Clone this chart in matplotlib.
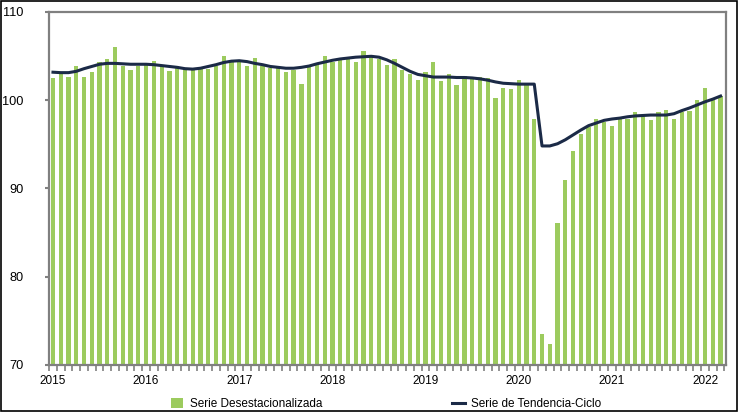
import matplotlib.pyplot as plt
import numpy as np
from matplotlib.patches import Patch, Rectangle
from matplotlib.lines import Line2D

plt.rcParams['font.family'] = ['Liberation Sans', 'DejaVu Sans']

# monthly data, Jan 2015 - Mar 2022
years = ['2015', '2016', '2017', '2018', '2019', '2020', '2021', '2022']

desest = [
    102.5, 102.9, 102.65, 103.8, 102.65, 103.2, 104.35, 104.6, 106.05, 103.9, 103.45, 103.8,
    104.2, 104.45, 103.9, 103.3, 103.9, 103.5, 103.4, 103.55, 103.55, 103.9, 105.0, 104.35,
    104.35, 103.9, 104.8, 103.9, 103.6, 103.9, 103.2, 103.45, 101.85, 103.8, 104.1, 105.0,
    104.35, 104.6, 104.65, 104.25, 105.5, 104.9, 104.65, 104.0, 104.6, 103.45, 102.9, 102.3,
    103.2, 104.35, 102.1, 103.0, 101.75, 102.7, 102.4, 102.65, 102.5, 100.2, 101.4, 101.2,
    102.3, 101.95, 97.9, 73.5, 72.4, 86.05, 91.0, 94.2, 96.2, 97.0, 97.9, 97.5,
    97.1, 97.8, 97.9, 98.6, 98.2, 97.7, 98.6, 98.9, 97.9, 98.6, 98.8, 99.95,
    101.4, 100.0, 100.5,
]

tendencia = [
    103.15, 103.1, 103.1, 103.25, 103.55, 103.8, 104.05, 104.15, 104.15, 104.1, 104.05, 104.05,
    104.05, 104.0, 103.9, 103.8, 103.7, 103.55, 103.5, 103.6, 103.8, 104.0, 104.25, 104.4,
    104.45, 104.35, 104.15, 104.0, 103.8, 103.7, 103.6, 103.6, 103.7, 103.85, 104.1, 104.3,
    104.5, 104.65, 104.75, 104.85, 104.9, 104.95, 104.85, 104.55, 104.15, 103.7, 103.25, 102.9,
    102.75, 102.6, 102.6, 102.6, 102.55, 102.55, 102.5, 102.4, 102.25, 102.05, 101.9, 101.85,
    101.8, 101.8, 101.8, 94.8, 94.8, 95.05, 95.5, 96.05, 96.6, 97.1, 97.4, 97.7,
    97.85, 97.95, 98.1, 98.2, 98.25, 98.3, 98.3, 98.3, 98.45, 98.8, 99.1, 99.45,
    99.8, 100.1, 100.45,
]

green = '#9ccb5e'
navy = '#1b2a47'
grey = '#808080'

x = np.arange(len(desest))

fig = plt.figure(figsize=(7.38, 4.12), dpi=100)
ax = fig.add_axes([48.7 / 738, 1 - 365 / 412, (726 - 48.7) / 738, (365 - 11.7) / 412])

ax.bar(x, np.array(desest) - 70, bottom=70, width=0.55, color=green, zorder=2)
ax.plot(x, tendencia, color=navy, lw=2.2, zorder=3)

ax.set_xlim(-0.55, 86.7)
ax.set_ylim(70, 110)
ax.set_yticks([70, 80, 90, 100, 110])
ax.set_xticks(np.arange(0, len(desest), 12))
ax.set_xticklabels(years)
ax.set_xticks(np.arange(-0.5, len(desest), 1), minor=True)

for s in ax.spines.values():
    s.set_color(grey)
    s.set_linewidth(1.6)

ax.tick_params(axis='y', length=3, width=1.5, color=grey, labelsize=9.2, pad=15)
ax.tick_params(axis='x', which='major', length=0, labelsize=8.5, pad=7)
ax.tick_params(axis='x', which='minor', length=4, width=1.2, color=grey)

handles = [Patch(facecolor=green, edgecolor='none'),
           Line2D([0], [0], color=navy, lw=2.2)]
fig.legend(handles, ['Serie Desestacionalizada', 'Serie de Tendencia-Ciclo'],
           loc='center left', bbox_to_anchor=(171 / 738, 1 - 404 / 412), ncol=2,
           frameon=False, fontsize=8.5, handlelength=1.05, handleheight=1.0,
           handletextpad=0.55, columnspacing=11.0, borderpad=0, borderaxespad=0)

fig.add_artist(Rectangle((0.0007, 0.002), 0.9986, 0.996, transform=fig.transFigure,
                         fill=False, ec='black', lw=1.2))

fig.savefig('out.png', dpi=100)
